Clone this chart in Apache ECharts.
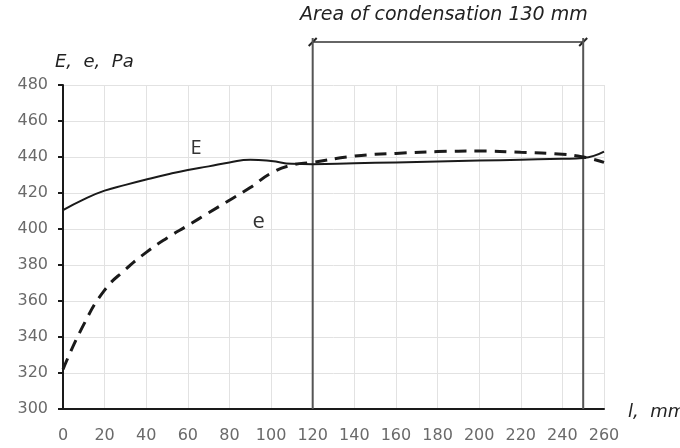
<!DOCTYPE html>
<html>
<head>
<meta charset="utf-8">
<script src="https://cdn.jsdelivr.net/npm/echarts@6/dist/echarts.min.js"></script>
<style>
  html, body { margin: 0; padding: 0; background: #fff; }
  #main { width: 680px; height: 448px; }
</style>
</head>
<body>
<div id="main"></div>
<script>
var xs = [0, 10, 20, 30, 40, 50, 60, 70, 80, 90, 100, 110, 120, 140, 160, 180, 200, 220, 240, 250, 260];
var bigE = [410.5, 416.5, 421.3, 424.5, 427.5, 430.3, 432.8, 434.8, 437, 438.5, 437.8, 436.2, 436, 436.5, 437, 437.5, 438, 438.5, 439, 439.5, 443];
var smallE = [322, 347, 366, 377.5, 387, 395, 402, 409, 416, 423, 431, 435.5, 437, 440.5, 442, 443, 443.3, 442.6, 441.5, 440, 437];
var areaBounds = [120, 250];
var areaText = "Area of condensation 130 mm";

var chart = echarts.init(document.getElementById("main"));

function pairs(vals) {
  return xs.map(function (x, i) { return [x, vals[i]]; });
}

var tickFont = { color: "#6a6a6a", fontSize: 16, fontFamily: "DejaVu Sans" };

var option = {
  animation: false,
  grid: { left: 63, right: 76, top: 85, bottom: 39 },
  xAxis: {
    type: "value", min: 0, max: 260, interval: 20,
    axisLine: { lineStyle: { color: "#1a1a1a", width: 2 } },
    axisTick: { show: false },
    axisLabel: Object.assign({ margin: 19 }, tickFont),
    splitLine: { lineStyle: { color: "#e2e2e2", width: 1 } }
  },
  yAxis: {
    type: "value", min: 300, max: 480, interval: 20,
    axisLine: { show: true, lineStyle: { color: "#1a1a1a", width: 2 } },
    axisTick: { show: true, length: 5, lineStyle: { color: "#1a1a1a", width: 2 } },
    axisLabel: Object.assign({ margin: 15 }, tickFont),
    splitLine: { lineStyle: { color: "#e2e2e2", width: 1 } }
  },
  series: [
    {
      name: "E", type: "line", smooth: true, showSymbol: false,
      data: pairs(bigE),
      lineStyle: { color: "#1a1a1a", width: 2 },
      z: 3
    },
    {
      name: "e", type: "line", smooth: true, showSymbol: false,
      data: pairs(smallE),
      lineStyle: { color: "#1a1a1a", width: 3, type: [12, 8] },
      z: 3
    }
  ]
};
chart.setOption(option);

// annotation drawn from axis pixel positions
var x1 = chart.convertToPixel({ xAxisIndex: 0 }, areaBounds[0]);
var x2 = chart.convertToPixel({ xAxisIndex: 0 }, areaBounds[1]);
var yBot = chart.convertToPixel({ yAxisIndex: 0 }, 300);
var pE = chart.convertToPixel({ gridIndex: 0 }, [64, 445]);
var pe = chart.convertToPixel({ gridIndex: 0 }, [94, 404]);
var lineY = 42;
var grey = { stroke: "#555", lineWidth: 2 };
var italic = "italic 18px 'DejaVu Sans'";

chart.setOption({
  graphic: [
    { type: "line", shape: { x1: x1, y1: lineY - 4, x2: x1, y2: yBot }, style: grey, z: 2 },
    { type: "line", shape: { x1: x2, y1: lineY - 4, x2: x2, y2: yBot }, style: grey, z: 2 },
    { type: "line", shape: { x1: x1, y1: lineY, x2: x2, y2: lineY }, style: { stroke: "#333", lineWidth: 1.5 } },
    { type: "line", shape: { x1: x1 - 4, y1: lineY + 4, x2: x1 + 4, y2: lineY - 4 }, style: { stroke: "#222", lineWidth: 2 } },
    { type: "line", shape: { x1: x2 - 4, y1: lineY + 4, x2: x2 + 4, y2: lineY - 4 }, style: { stroke: "#222", lineWidth: 2 } },
    { type: "text", x: 300, y: 15,
      style: { text: areaText, fill: "#222", font: "italic 19px 'DejaVu Sans'", align: "left", verticalAlign: "middle" } },
    { type: "text", x: 55, y: 62,
      style: { text: "E,  e,  Pa", fill: "#222", font: italic, align: "left", verticalAlign: "middle" } },
    { type: "text", x: 628, y: yBot + 3,
      style: { text: "l,  mm", fill: "#222", font: italic, align: "left", verticalAlign: "middle" } },
    { type: "text", x: pE[0], y: pE[1],
      style: { text: "E", fill: "#333", font: "20px 'Open Sans'", align: "center", verticalAlign: "middle" } },
    { type: "text", x: pe[0], y: pe[1],
      style: { text: "e", fill: "#333", font: "22px 'Open Sans'", align: "center", verticalAlign: "middle" } }
  ]
});
</script>
</body>
</html>
